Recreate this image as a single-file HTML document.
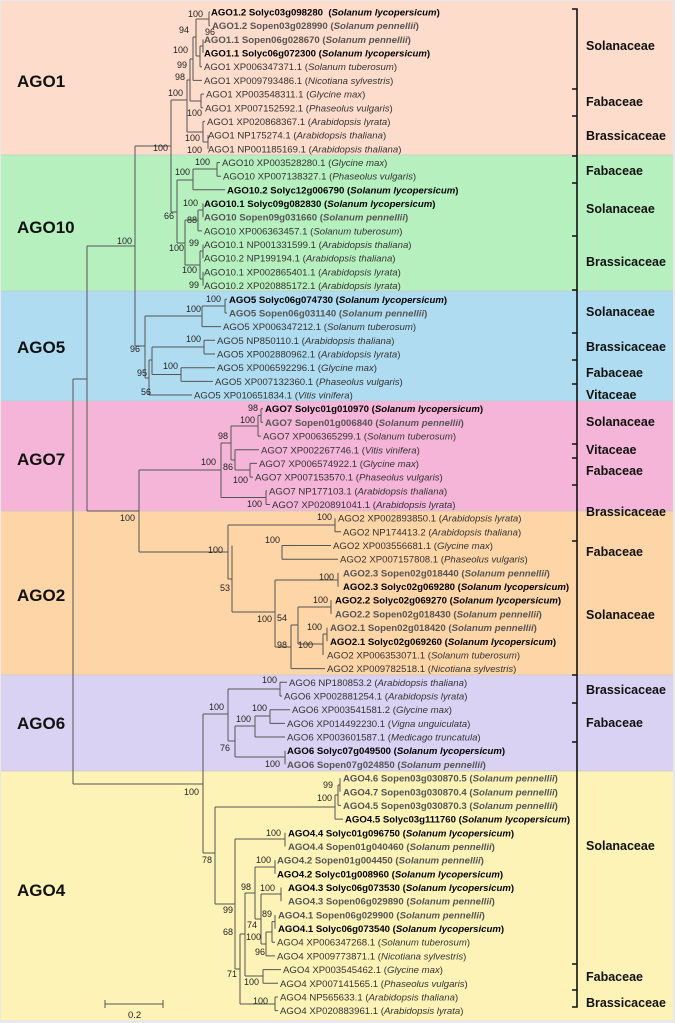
<!DOCTYPE html>
<html><head><meta charset="utf-8"><style>
html,body{margin:0;padding:0;background:#fff}
svg{display:block;font-family:"Liberation Sans",Arial,sans-serif}
.l{font-size:9.6px;fill:#333}
.b{font-size:9.6px;font-weight:bold;fill:#000}
.g{font-size:9.6px;font-weight:bold;fill:#555}
.n{font-size:9px;fill:#222;text-anchor:end}
.c{font-size:17px;font-weight:bold;fill:#111}
.f{font-size:12.5px;font-weight:bold;fill:#111}
</style></head><body>
<svg width="675" height="1023" viewBox="0 0 675 1023" xmlns="http://www.w3.org/2000/svg">
<rect x="0" y="0" width="675" height="1023" fill="#e8e8e8"/>
<rect x="1" y="1" width="672" height="154" fill="#fddccb"/>
<rect x="1" y="155" width="672" height="136" fill="#b6f0be"/>
<rect x="1" y="291" width="672" height="110" fill="#afdcf0"/>
<rect x="1" y="401" width="672" height="110" fill="#f5b5d8"/>
<rect x="1" y="511" width="672" height="164" fill="#fdd5a6"/>
<rect x="1" y="675" width="672" height="96" fill="#d9d2f2"/>
<rect x="1" y="771" width="672" height="249" fill="#fdf3b6"/>
<g stroke="#c8c8c8" stroke-width="0.8"><line x1="1" y1="155" x2="673" y2="155"/><line x1="1" y1="291" x2="673" y2="291"/><line x1="1" y1="401" x2="673" y2="401"/><line x1="1" y1="511" x2="673" y2="511"/><line x1="1" y1="675" x2="673" y2="675"/><line x1="1" y1="771" x2="673" y2="771"/></g>

<g fill="none" stroke="#555" stroke-width="1">
<path d="M209 12V25.7 M203 39.4V53 M200 46V66.7 M196 19V56 M193 37V80.4 M201 94.1V107.8 M190 59V101 M208 135.1V148.8 M203 121.4V142 M187 80V132
M209 12H210 M209 25.7H210 M200 66.7H202 M193 80.4H202 M201 94.1H204 M201 107.8H203 M203 121.4H205
M200 46H203 M196 56H200 M196 19H209 M193 37H196 M190 59H193 M190 101H201 M187 80H190 M187 132H203 M203 142H208 M171 100H187"/>
<path d="M217 162.5V176.2 M193 169V189.8 M203 203.5V217.2 M198 210V230.9 M203 244.6V258.2 M203 271.9V285.6 M200 251V279 M185 220V265 M177 180V243 M171 100V212
M217 162.5H220 M217 176.2H221 M193 189.8H225 M198 230.9H202
M193 169H217 M177 180H193 M198 210H203 M185 220H198 M200 251H203 M200 279H203 M185 265H200 M177 243H185 M171 212H177 M135 146H171"/>
<path d="M225 299.3V313 M202 306V326.6 M204 340.3V354 M181 367.7V381.4 M152 347V374.5 M149 360V395 M145 316V378
M225 299.3H227 M225 313H227 M202 326.6H221 M204 340.3H215 M204 354H215 M181 367.7H215 M181 381.4H213 M149 395H192
M202 306H225 M145 316H202 M152 347H204 M152 374.5H181 M149 360H152 M145 378H149 M135 346H145 M135 146V346 M87 246H135"/>
<path d="M261 408.7V422.4 M258 415.5V436.1 M250 463.4V477.1 M235 449.8V470 M231 426V460 M266 490.8V504.5 M221 443V497.5
M261 408.7H263 M261 422.4H263 M258 436.1H261 M235 449.8H259 M250 463.4H257 M250 477.1H253 M266 490.8H267 M266 504.5H270
M258 415.5H261 M231 426H258 M235 470H250 M231 460H235 M221 443H231 M221 497.5H266 M139 470H221 M139 470V552 M87 511H139 M87 246V511 M73 379H87 M73 379V784"/>
<path d="M335 518.2V531.8 M282 545.5V559.2 M338 572.9V586.6 M331 600.2V613.9 M327 627.6V641.3 M323 634V655 M298 607V644 M291 625V668.6 M275 580V647 M232 545.5V612 M228 525V579
M335 531.8H341 M282 545.5H331 M282 559.2H338 M291 668.6H325
M275 580H338 M298 607H331 M323 634H327 M298 644H323 M291 625H298 M275 647H291 M232 612H275 M228 525H335 M228 579H232 M139 552H228"/>
<path d="M280 682.3V696 M270 709.7V723.4 M255 716V737 M285 750.7V764.4 M235 726V757 M228 689V741
M280 682.3H287 M280 696H282 M270 709.7H290 M270 723.4H285 M255 737H285
M255 716H270 M235 726H255 M235 757H285 M228 689H280 M228 741H235 M203 714H228 M203 714V853 M73 784H203"/>
<path d="M340 778.1V791.8 M338 785V805.4 M335 795V819.1 M285 832.8V846.5 M275 860.2V873.8 M281 887.5V901.2 M275 914.9V928.6 M272 921.6V942.2 M266 932V955.9 M261 894V944 M255 867V919 M263 969.6V983.3 M245 893V976 M275 997V1010.6 M240 934V1004 M235 839V969 M215 807V904
M338 805.4H341 M335 819.1H343 M272 942.2H275 M266 955.9H275 M263 969.6H281 M263 983.3H278 M275 997H278 M275 1010.6H278
M338 785H340 M335 795H338 M215 807H335 M235 839H285 M255 867H275 M261 894H281 M272 921.6H275 M266 932H272 M261 944H266 M255 919H261 M245 893H255 M245 976H263 M240 934H245 M240 1004H275 M235 969H240 M215 904H235 M203 853H215"/>
<path d="M105 1004H163 M105 1000V1008 M163 1000V1008"/>
</g>
<text x="128" y="1018" style="font-size:9.5px;fill:#222">0.2</text>

<g stroke="#111" stroke-width="1.6" fill="none">
<path d="M572 9H577V1007H572 M572 89H577 M572 116H577 M572 156H577 M572 183H577 M572 236H577 M572 290H577 M572 333H577 M572 360H577 M572 384H577 M572 444H577 M572 458H577 M572 485H577 M572 541H577 M572 675H577 M572 703H577 M572 742H577 M572 964H577 M572 990H577"/>
</g>

<g class="c">
<text x="17" y="87">AGO1</text><text x="17" y="233">AGO10</text><text x="17" y="353">AGO5</text><text x="17" y="465">AGO7</text><text x="17" y="601">AGO2</text><text x="17" y="729">AGO6</text><text x="17" y="896">AGO4</text>
</g>
<g class="f">
<text x="586" y="50">Solanaceae</text><text x="586" y="106">Fabaceae</text><text x="586" y="140">Brassicaceae</text>
<text x="586" y="175">Fabaceae</text><text x="586" y="213">Solanaceae</text><text x="586" y="266">Brassicaceae</text>
<text x="586" y="316">Solanaceae</text><text x="586" y="351">Brassicaceae</text><text x="586" y="377">Fabaceae</text><text x="586" y="399">Vitaceae</text>
<text x="586" y="426">Solanaceae</text><text x="586" y="454">Vitaceae</text><text x="586" y="475">Fabaceae</text><text x="586" y="516">Brassicaceae</text>
<text x="586" y="556">Fabaceae</text><text x="586" y="619">Solanaceae</text>
<text x="586" y="694">Brassicaceae</text><text x="586" y="727">Fabaceae</text>
<text x="586" y="850">Solanaceae</text><text x="586" y="981">Fabaceae</text><text x="586" y="1007">Brassicaceae</text>
</g>

<g>
<text class="b" x="211" y="15.5" xml:space="preserve">AGO1.2 Solyc03g098280  (<tspan font-style="italic">Solanum lycopersicum</tspan>)</text>
<text class="g" x="212" y="29.2">AGO1.2 Sopen03g028990 (<tspan font-style="italic">Solanum pennellii</tspan>)</text>
<text class="g" x="204" y="42.9">AGO1.1 Sopen06g028670 (<tspan font-style="italic">Solanum pennellii</tspan>)</text>
<text class="b" x="204" y="56.5">AGO1.1 Solyc06g072300 (<tspan font-style="italic">Solanum lycopersicum</tspan>)</text>
<text class="l" x="204" y="70.2">AGO1 XP006347371.1 (<tspan font-style="italic">Solanum tuberosum</tspan>)</text>
<text class="l" x="204" y="83.9">AGO1 XP009793486.1 (<tspan font-style="italic">Nicotiana sylvestris</tspan>)</text>
<text class="l" x="206" y="97.6">AGO1 XP003548311.1 (<tspan font-style="italic">Glycine max</tspan>)</text>
<text class="l" x="205" y="111.3">AGO1 XP007152592.1 (<tspan font-style="italic">Phaseolus vulgaris</tspan>)</text>
<text class="l" x="207" y="124.9">AGO1 XP020868367.1 (<tspan font-style="italic">Arabidopsis lyrata</tspan>)</text>
<text class="l" x="208" y="138.6">AGO1 NP175274.1 (<tspan font-style="italic">Arabidopsis thaliana</tspan>)</text>
<text class="l" x="208" y="152.3">AGO1 NP001185169.1 (<tspan font-style="italic">Arabidopsis thaliana</tspan>)</text>
<text class="l" x="222" y="166.0">AGO10 XP003528280.1 (<tspan font-style="italic">Glycine max</tspan>)</text>
<text class="l" x="223" y="179.7">AGO10 XP007138327.1 (<tspan font-style="italic">Phaseolus vulgaris</tspan>)</text>
<text class="b" x="227" y="193.3">AGO10.2 Solyc12g006790 (<tspan font-style="italic">Solanum lycopersicum</tspan>)</text>
<text class="b" x="204" y="207.0">AGO10.1 Solyc09g082830 (<tspan font-style="italic">Solanum lycopersicum</tspan>)</text>
<text class="g" x="204" y="220.7">AGO10 Sopen09g031660 (<tspan font-style="italic">Solanum pennellii</tspan>)</text>
<text class="l" x="204" y="234.4">AGO10 XP006363457.1 (<tspan font-style="italic">Solanum tuberosum</tspan>)</text>
<text class="l" x="204" y="248.1">AGO10.1 NP001331599.1 (<tspan font-style="italic">Arabidopsis thaliana</tspan>)</text>
<text class="l" x="204" y="261.7">AGO10.2 NP199194.1 (<tspan font-style="italic">Arabidopsis thaliana</tspan>)</text>
<text class="l" x="204" y="275.4">AGO10.1 XP002865401.1 (<tspan font-style="italic">Arabidopsis lyrata</tspan>)</text>
<text class="l" x="204" y="289.1">AGO10.2 XP020885172.1 (<tspan font-style="italic">Arabidopsis lyrata</tspan>)</text>
<text class="b" x="229" y="302.8">AGO5 Solyc06g074730 (<tspan font-style="italic">Solanum lycopersicum</tspan>)</text>
<text class="g" x="229" y="316.5">AGO5 Sopen06g031140 (<tspan font-style="italic">Solanum pennellii</tspan>)</text>
<text class="l" x="223" y="330.1">AGO5 XP006347212.1 (<tspan font-style="italic">Solanum tuberosum</tspan>)</text>
<text class="l" x="217" y="343.8">AGO5 NP850110.1 (<tspan font-style="italic">Arabidopsis thaliana</tspan>)</text>
<text class="l" x="217" y="357.5">AGO5 XP002880962.1 (<tspan font-style="italic">Arabidopsis lyrata</tspan>)</text>
<text class="l" x="217" y="371.2">AGO5 XP006592296.1 (<tspan font-style="italic">Glycine max</tspan>)</text>
<text class="l" x="215" y="384.9">AGO5 XP007132360.1 (<tspan font-style="italic">Phaseolus vulgaris</tspan>)</text>
<text class="l" x="194" y="398.5">AGO5 XP010651834.1 (<tspan font-style="italic">Vitis vinifera</tspan>)</text>
<text class="b" x="265" y="412.2">AGO7 Solyc01g010970 (<tspan font-style="italic">Solanum lycopersicum</tspan>)</text>
<text class="g" x="265" y="425.9">AGO7 Sopen01g006840 (<tspan font-style="italic">Solanum pennellii</tspan>)</text>
<text class="l" x="263" y="439.6">AGO7 XP006365299.1 (<tspan font-style="italic">Solanum tuberosum</tspan>)</text>
<text class="l" x="261" y="453.3">AGO7 XP002267746.1 (<tspan font-style="italic">Vitis vinifera</tspan>)</text>
<text class="l" x="259" y="466.9">AGO7 XP006574922.1 (<tspan font-style="italic">Glycine max</tspan>)</text>
<text class="l" x="255" y="480.6">AGO7 XP007153570.1 (<tspan font-style="italic">Phaseolus vulgaris</tspan>)</text>
<text class="l" x="269" y="494.3">AGO7 NP177103.1 (<tspan font-style="italic">Arabidopsis thaliana</tspan>)</text>
<text class="l" x="272" y="508.0">AGO7 XP020891041.1 (<tspan font-style="italic">Arabidopsis lyrata</tspan>)</text>
<text class="l" x="338" y="521.7">AGO2 XP002893850.1 (<tspan font-style="italic">Arabidopsis lyrata</tspan>)</text>
<text class="l" x="343" y="535.3">AGO2 NP174413.2 (<tspan font-style="italic">Arabidopsis thaliana</tspan>)</text>
<text class="l" x="333" y="549.0">AGO2 XP003556681.1 (<tspan font-style="italic">Glycine max</tspan>)</text>
<text class="l" x="340" y="562.7">AGO2 XP007157808.1 (<tspan font-style="italic">Phaseolus vulgaris</tspan>)</text>
<text class="g" x="343" y="576.4">AGO2.3 Sopen02g018440 (<tspan font-style="italic">Solanum pennellii</tspan>)</text>
<text class="b" x="343" y="590.1">AGO2.3 Solyc02g069280 (<tspan font-style="italic">Solanum lycopersicum</tspan>)</text>
<text class="b" x="335" y="603.7">AGO2.2 Solyc02g069270 (<tspan font-style="italic">Solanum lycopersicum</tspan>)</text>
<text class="g" x="335" y="617.4">AGO2.2 Sopen02g018430 (<tspan font-style="italic">Solanum pennellii</tspan>)</text>
<text class="g" x="330" y="631.1">AGO2.1 Sopen02g018420 (<tspan font-style="italic">Solanum pennellii</tspan>)</text>
<text class="b" x="330" y="644.8">AGO2.1 Solyc02g069260 (<tspan font-style="italic">Solanum lycopersicum</tspan>)</text>
<text class="l" x="327" y="658.5">AGO2 XP006353071.1 (<tspan font-style="italic">Solanum tuberosum</tspan>)</text>
<text class="l" x="327" y="672.1">AGO2 XP009782518.1 (<tspan font-style="italic">Nicotiana sylvestris</tspan>)</text>
<text class="l" x="289" y="685.8">AGO6 NP180853.2 (<tspan font-style="italic">Arabidopsis thaliana</tspan>)</text>
<text class="l" x="284" y="699.5">AGO6 XP002881254.1 (<tspan font-style="italic">Arabidopsis lyrata</tspan>)</text>
<text class="l" x="292" y="713.2">AGO6 XP003541581.2 (<tspan font-style="italic">Glycine max</tspan>)</text>
<text class="l" x="287" y="726.9">AGO6 XP014492230.1 (<tspan font-style="italic">Vigna unguiculata</tspan>)</text>
<text class="l" x="287" y="740.5">AGO6 XP003601587.1 (<tspan font-style="italic">Medicago truncatula</tspan>)</text>
<text class="b" x="287" y="754.2">AGO6 Solyc07g049500 (<tspan font-style="italic">Solanum lycopersicum</tspan>)</text>
<text class="g" x="287" y="767.9">AGO6 Sopen07g024850 (<tspan font-style="italic">Solanum pennellii</tspan>)</text>
<text class="g" x="343" y="781.6">AGO4.6 Sopen03g030870.5 (<tspan font-style="italic">Solanum pennellii</tspan>)</text>
<text class="g" x="343" y="795.3">AGO4.7 Sopen03g030870.4 (<tspan font-style="italic">Solanum pennellii</tspan>)</text>
<text class="g" x="343" y="808.9">AGO4.5 Sopen03g030870.3 (<tspan font-style="italic">Solanum pennellii</tspan>)</text>
<text class="b" x="345" y="822.6">AGO4.5 Solyc03g111760 (<tspan font-style="italic">Solanum lycopersicum</tspan>)</text>
<text class="b" x="288" y="836.3">AGO4.4 Solyc01g096750 (<tspan font-style="italic">Solanum lycopersicum</tspan>)</text>
<text class="g" x="288" y="850.0">AGO4.4 Sopen01g040460 (<tspan font-style="italic">Solanum pennellii</tspan>)</text>
<text class="g" x="277" y="863.7">AGO4.2 Sopen01g004450 (<tspan font-style="italic">Solanum pennellii</tspan>)</text>
<text class="b" x="277" y="877.3">AGO4.2 Solyc01g008960 (<tspan font-style="italic">Solanum lycopersicum</tspan>)</text>
<text class="b" x="288" y="891.0">AGO4.3 Solyc06g073530 (<tspan font-style="italic">Solanum lycopersicum</tspan>)</text>
<text class="g" x="288" y="904.7">AGO4.3 Sopen06g029890 (<tspan font-style="italic">Solanum pennellii</tspan>)</text>
<text class="g" x="278" y="918.4">AGO4.1 Sopen06g029900 (<tspan font-style="italic">Solanum pennellii</tspan>)</text>
<text class="b" x="278" y="932.1">AGO4.1 Solyc06g073540 (<tspan font-style="italic">Solanum lycopersicum</tspan>)</text>
<text class="l" x="277" y="945.7">AGO4 XP006347268.1 (<tspan font-style="italic">Solanum tuberosum</tspan>)</text>
<text class="l" x="277" y="959.4">AGO4 XP009773871.1 (<tspan font-style="italic">Nicotiana sylvestris</tspan>)</text>
<text class="l" x="283" y="973.1">AGO4 XP003545462.1 (<tspan font-style="italic">Glycine max</tspan>)</text>
<text class="l" x="280" y="986.8">AGO4 XP007141565.1 (<tspan font-style="italic">Phaseolus vulgaris</tspan>)</text>
<text class="l" x="280" y="1000.5">AGO4 NP565633.1 (<tspan font-style="italic">Arabidopsis thaliana</tspan>)</text>
<text class="l" x="280" y="1014.1">AGO4 XP020883961.1 (<tspan font-style="italic">Arabidopsis lyrata</tspan>)</text>
</g>

<g class="n">
<text x="203" y="17">100</text><text x="215" y="35">96</text><text x="189" y="33">94</text><text x="188" y="53">100</text><text x="187" y="68">99</text><text x="185" y="80">98</text><text x="183" y="96">100</text><text x="202" y="116">100</text><text x="200" y="141">100</text><text x="202" y="153">100</text><text x="168" y="151">100</text>
<text x="210" y="165">100</text><text x="190" y="175">100</text><text x="198" y="206">100</text><text x="197" y="223">88</text><text x="174" y="219">66</text><text x="199" y="246">99</text><text x="184" y="251">100</text><text x="197" y="273">100</text><text x="199" y="288">99</text><text x="132" y="244">100</text>
<text x="221" y="302">100</text><text x="201" y="312">100</text><text x="201" y="342">100</text><text x="178" y="369">100</text><text x="140" y="352">96</text><text x="147" y="376">95</text><text x="151" y="395">56</text>
<text x="258" y="411">98</text><text x="255" y="423">100</text><text x="228" y="439">98</text><text x="233" y="470">86</text><text x="216" y="465">100</text><text x="248" y="483">100</text><text x="262" y="507">100</text><text x="135" y="521">100</text>
<text x="332" y="520">100</text><text x="280" y="543">100</text><text x="223" y="553">100</text><text x="230" y="591">53</text><text x="334" y="580">100</text><text x="328" y="603">100</text><text x="287" y="621">54</text><text x="272" y="622">100</text><text x="322" y="630">100</text><text x="287" y="648">98</text><text x="313" y="648">100</text>
<text x="277" y="683">100</text><text x="267" y="711">100</text><text x="251" y="722">100</text><text x="230" y="751">76</text><text x="280" y="767">100</text><text x="224" y="710">100</text><text x="199" y="795">100</text>
<text x="333" y="788">99</text><text x="332" y="801">100</text><text x="281" y="836">100</text><text x="212" y="863">78</text><text x="271" y="863">100</text><text x="251" y="890">98</text><text x="275" y="891">100</text><text x="272" y="917">89</text><text x="233" y="913">99</text><text x="257" y="928">74</text><text x="233" y="935">68</text><text x="261" y="940">100</text><text x="265" y="955">96</text><text x="237" y="977">71</text><text x="259" y="985">100</text><text x="268" y="1004">100</text>
</g>
</svg>
</body></html>
